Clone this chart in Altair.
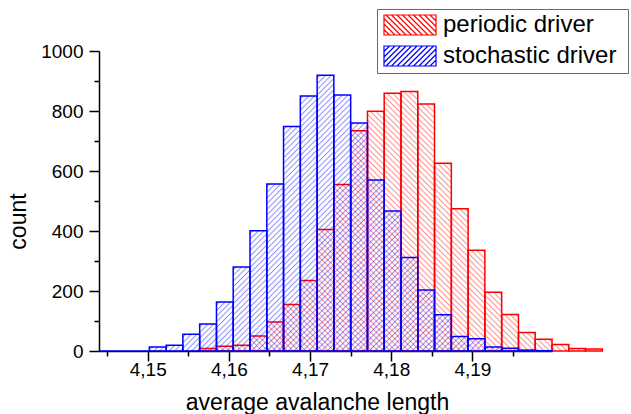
import base64
import altair as alt
import pandas as pd

# ---------------- data ----------------
bin_edges = [4.14400, 4.14607, 4.14813, 4.15020, 4.15227, 4.15433, 4.15640, 4.15847,
             4.16053, 4.16260, 4.16467, 4.16673, 4.16880, 4.17087, 4.17293, 4.17500,
             4.17707, 4.17913, 4.18120, 4.18327, 4.18533, 4.18740, 4.18947, 4.19153,
             4.19360, 4.19567, 4.19773, 4.19980, 4.20187, 4.20393, 4.20600]

periodic_counts = [None, None, None, None, None, None,
                   8, 16, 19, 50, 97, 155, 235, 405, 555, 734, 799, 859, 865, 823,
                   626, 474, 336, 196, 122, 62, 39, 22, 8, 7]

stochastic_counts = [0, 0, 0, 13, 19, 56, 90, 163, 280, 401, 557, 748, 850, 919, 853,
                     760, 570, 467, 312, 203, 121, 48, 41, 13, 9, 3, 1, None, None, None]

series_names = ["periodic driver", "stochastic driver"]
series_colors = ["#ff0000", "#0000ff"]

x_major = [4.15, 4.16, 4.17, 4.18, 4.19]
x_minor = [4.145, 4.155, 4.165, 4.175, 4.185, 4.195]
y_ticks = [0, 100, 200, 300, 400, 500, 600, 700, 800, 900, 1000]

rows = []
for name, counts in zip(series_names, [periodic_counts, stochastic_counts]):
    for i, c in enumerate(counts):
        if c is None:
            continue
        rows.append({"driver": name, "x0": bin_edges[i], "x1": bin_edges[i + 1], "count": c})
df = pd.DataFrame(rows)

FONT = "Liberation Sans"


def hatch_uri(color, angle, spacing, opacity):
    svg = ('<svg xmlns="http://www.w3.org/2000/svg" width="100%" height="100%">'
           f'<defs><pattern id="p" patternUnits="userSpaceOnUse" width="{spacing}" height="{spacing}" '
           f'patternTransform="rotate({angle})">'
           f'<line x1="{spacing/2}" y1="-1" x2="{spacing/2}" y2="{spacing+1}" stroke="{color}" '
           f'stroke-opacity="{opacity}" stroke-width="1"/></pattern></defs>'
           '<rect width="100%" height="100%" fill="url(#p)"/></svg>')
    return "data:image/svg+xml;base64," + base64.b64encode(svg.encode()).decode()


red_hatch = hatch_uri("#ff0000", -45, 4.0, 0.45)
blue_hatch = hatch_uri("#0000ff", 45, 4.0, 0.45)

# legend swatch paths (units of r = sqrt(symbolSize)/2)
R = 10.0


def swatch_path(direction, xL=-9.0, w=52.0, h=20.0, step=5.5, reach=228.0):
    xR = xL + w
    yT, yB = -h / 2, h / 2
    parts = [f"M{xL/R:.3f},{yT/R:.3f}H{xR/R:.3f}V{yB/R:.3f}H{xL/R:.3f}Z"]
    x = xL - h
    while x < xR:
        if direction == "back":
            ax, ay, bx, by = x, yT, x + h, yB
        else:
            ax, ay, bx, by = x, yB, x + h, yT
        t0 = max(0.0, (xL - x) / h)
        t1 = min(1.0, (xR - x) / h)
        if t1 - t0 > 1e-6:
            p0 = (ax + (bx - ax) * t0, ay + (by - ay) * t0)
            p1 = (ax + (bx - ax) * t1, ay + (by - ay) * t1)
            parts.append(f"M{p0[0]/R:.3f},{p0[1]/R:.3f}L{p1[0]/R:.3f},{p1[1]/R:.3f}")
        x += step
    # zero-length segment (draws nothing) that widens the legend box to the right edge
    parts.append(f"M{reach/R:.3f},0L{reach/R:.3f},0")
    return "".join(parts)


path_red = swatch_path("back")
path_blue = swatch_path("fwd")
symbol_expr = f"datum.value == '{series_names[0]}' ? '{path_red}' : '{path_blue}'"

x_scale = alt.Scale(domain=[bin_edges[0], bin_edges[27]], nice=False, zero=False)
y_scale = alt.Scale(domain=[0, 1000], nice=False)

major_test_x = "abs(datum.value*100 - round(datum.value*100)) < 0.001"
x_axis = alt.Axis(
    values=sorted(x_major + x_minor),
    labelExpr=f"{major_test_x} ? replace(format(datum.value, '.2f'), '.', ',') : ''",
    tickSize={"condition": {"test": major_test_x, "value": 10}, "value": 5},
    title="average avalanche length",
    titleX=218, titleY=58, titleAlign="center", titleBaseline="alphabetic",
    labelPadding=-1, labelFlush=False, labelOverlap=False,
)
y_axis = alt.Axis(
    values=y_ticks,
    labelExpr="datum.value % 200 == 0 ? datum.label : ''",
    tickSize={"condition": {"test": "datum.value % 200 == 0", "value": 10}, "value": 5},
    title="count",
    titleX=-74, titleY=170, titleAngle=270, titleAlign="center", titleBaseline="alphabetic",
    labelPadding=6, labelOverlap=False, format="d",
)

base = alt.Chart(df)

X = alt.X("x0:Q", scale=x_scale, axis=x_axis)
X2 = alt.X2("x1")
Y = alt.Y("count:Q", scale=y_scale, axis=y_axis)
Y2 = alt.datum(0)

stroke_enc = alt.Stroke(
    "driver:N",
    scale=alt.Scale(domain=series_names, range=series_colors),
    legend=alt.Legend(
        title=None, orient="none", legendX=278, legendY=-42,
        padding=4, strokeColor="#6a6a6a", fillColor="white",
        labelFont=FONT, labelFontSize=24, labelColor="black", labelLimit=400,
        symbolType={"expr": symbol_expr}, symbolSize=400, symbolStrokeWidth=1.2,
        symbolFillColor="transparent",
        labelOffset=38, rowPadding=5,
    ),
)

red_img = base.transform_filter(alt.datum.driver == series_names[0]).mark_image(
    url=red_hatch, aspect=False).encode(x=X, x2=X2, y=Y, y2=Y2)
red_bar = base.transform_filter(alt.datum.driver == series_names[0]).mark_rect(
    filled=False, strokeWidth=1.5).encode(x=X, x2=X2, y=Y, y2=Y2, stroke=stroke_enc)
blue_img = base.transform_filter(alt.datum.driver == series_names[1]).mark_image(
    url=blue_hatch, aspect=False).encode(x=X, x2=X2, y=Y, y2=Y2)
blue_bar = base.transform_filter(alt.datum.driver == series_names[1]).mark_rect(
    filled=False, strokeWidth=1.5).encode(x=X, x2=X2, y=Y, y2=Y2, stroke=stroke_enc)

chart = alt.layer(red_img, red_bar, blue_img, blue_bar).properties(
    width=453, height=300,
    autosize=alt.AutoSizeParams(type="none"),
    padding={"left": 99, "top": 51, "right": 79, "bottom": 63},
).configure_view(stroke=None).configure_axis(
    labelFont=FONT, labelFontSize=19, labelColor="black",
    titleFont=FONT, titleFontSize=23, titleColor="black", titleFontWeight="normal",
    domainColor="black", domainWidth=1.5, tickColor="black", tickWidth=1.5, grid=False,
)

chart.save("out.html", embed_options={"renderer": "svg", "actions": False})
